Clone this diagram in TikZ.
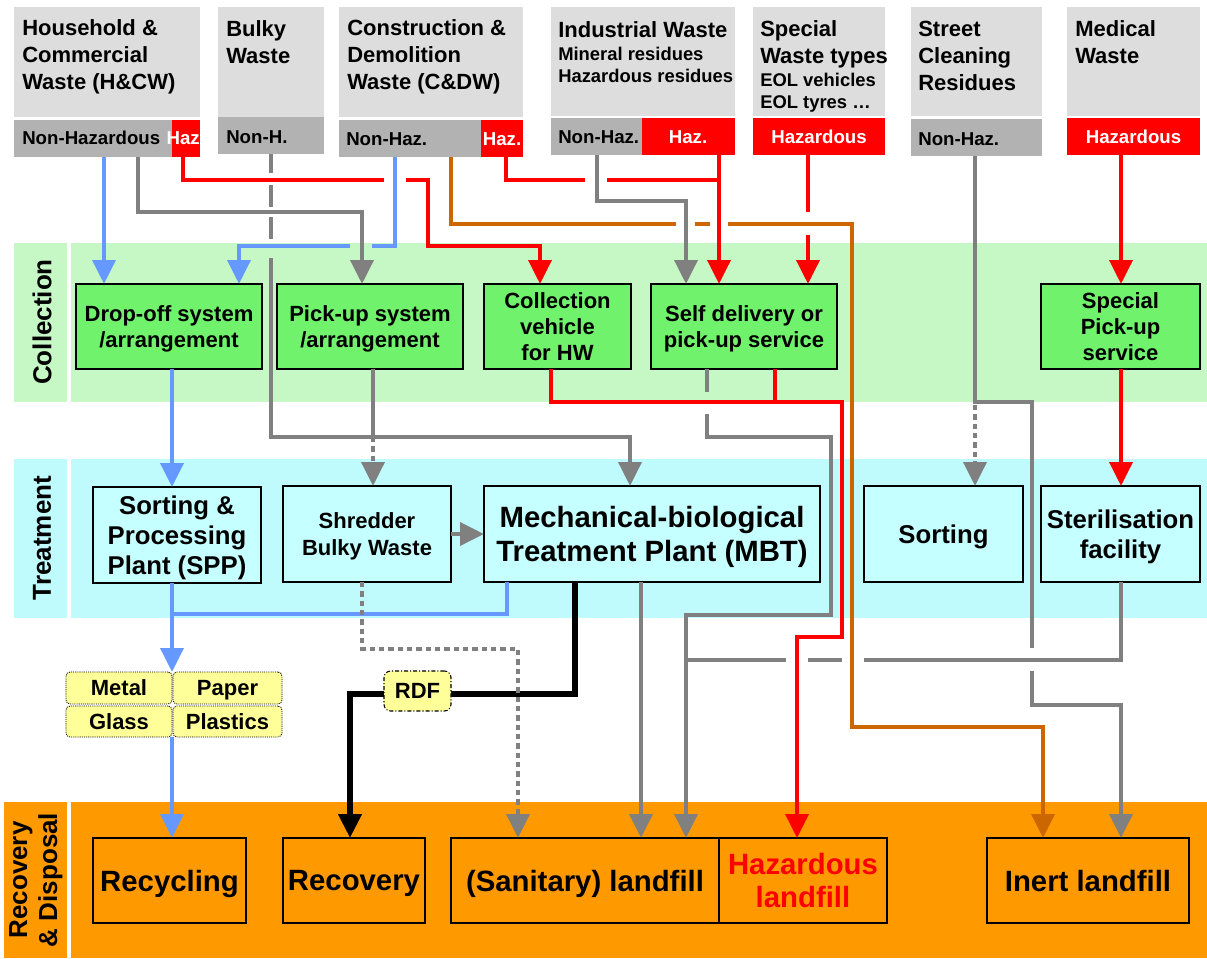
\documentclass[tikz,border=0pt]{standalone}
\usepackage{fontspec}
\setmainfont{Liberation Sans}
\usetikzlibrary{fit,arrows.meta}
\definecolor{hdr}{HTML}{DDDDDD}
\definecolor{subg}{HTML}{B2B2B2}
\definecolor{hred}{HTML}{FF0000}
\definecolor{bandC}{HTML}{C6F8C6}
\definecolor{nodeC}{HTML}{70F26C}
\definecolor{bandT}{HTML}{BFFAFC}
\definecolor{nodeT}{HTML}{C6FFFF}
\definecolor{bandR}{HTML}{FF9900}
\definecolor{yel}{HTML}{FFFF99}
\definecolor{lblue}{HTML}{6699FF}
\definecolor{lgray}{HTML}{808080}
\definecolor{lbrown}{HTML}{CC6600}
\newcommand\fsz[2]{\fontsize{#1}{#2}\selectfont\bfseries}
\newdimen\pxu \pxu=0.75pt
\begin{document}
\begin{tikzpicture}[x=0.75pt,y=-0.75pt,
  box/.style={inner sep=0pt, outer sep=0pt, align=center},
  tbox/.style={box, text depth=0pt},
  sz/.style 2 args={minimum width=#1\pxu, minimum height=#2\pxu},
  hdrbox/.style={box, fill=hdr},
  subbox/.style={box, fill=subg},
  redbox/.style={box, fill=hred},
  htxt/.style={inner sep=0pt, align=left, font=\fsz{16.5}{19.9}},
  hsmall/.style={inner sep=0pt, align=left, font=\fsz{13.8}{16.5}},
  stxt/.style={inner sep=0pt, font=\fsz{14}{17}},
  rtxt/.style={stxt, text=white},
  blab/.style={rotate=90, inner sep=0pt, align=center, font=\fsz{19.5}{23}},
  cnode/.style={tbox, draw=black, line width=1pt, fill=nodeC, font=\fsz{16.5}{19.5}},
  tnode/.style={tbox, draw=black, line width=1pt, fill=nodeT},
  ynode/.style={tbox, fill=yel, draw=black, line width=0.6pt, dash pattern=on 0.8pt off 0.8pt, rounded corners=3pt, font=\fsz{16.5}{19.5}},
  rnode/.style={tbox, draw=black, line width=1pt, fill=bandR, font=\fsz{22}{24.8}},
  cb/.style={draw=lblue, line width=3.5pt},
  cg/.style={draw=lgray, line width=3.5pt},
  cr/.style={draw=hred, line width=3.5pt},
  cn/.style={draw=lbrown, line width=3.5pt},
  ck/.style={draw=black, line width=4pt},
  dots/.style={dash pattern=on 4pt off 3pt},
  arw/.style={-{Triangle[length=18pt,width=17pt]}}
]
\useasboundingbox (0,0) rectangle (1207,958);
% ---------- bands
\fill[bandC] (14,243) rectangle (67,402);
\fill[bandC] (71,243) rectangle (1207,402);
\fill[bandT] (14,459) rectangle (67,618);
\fill[bandT] (71,459) rectangle (1207,618);
\fill[bandR] (4,802) rectangle (67,958);
\fill[bandR] (71,802) rectangle (1207,958);
\node[blab] (labC) at (42,322) {Collection};
\node[blab] (labT) at (42,538) {Treatment};
\node[blab, font=\fsz{19.5}{22.5}] (labR) at (36,880) {Recovery\\\& Disposal};
% ---------- header boxes
\node[hdrbox, fit={(14,7) (200,117)}] (hcwT) {};
\node[subbox, fit={(14,120) (172,157)}] (hcwN) {};
\node[redbox, fit={(172,120) (200,157)}] (hcwH) {};
\node[hdrbox, fit={(218,7) (324,117)}] (bwT) {};
\node[subbox, fit={(218,117) (324,154)}] (bwN) {};
\node[hdrbox, fit={(339,7) (523,117)}] (cdT) {};
\node[subbox, fit={(339,120) (481,157)}] (cdN) {};
\node[redbox, fit={(481,120) (523,157)}] (cdH) {};
\node[hdrbox, fit={(551,7) (735,116)}] (iwT) {};
\node[subbox, fit={(551,118) (642,155)}] (iwN) {};
\node[redbox, fit={(642,118) (735,155)}] (iwH) {};
\node[hdrbox, fit={(753,7) (885,116)}] (swT) {};
\node[redbox, fit={(753,118) (885,155)}] (swH) {};
\node[hdrbox, fit={(911,7) (1042,116)}] (scT) {};
\node[subbox, fit={(911,119) (1042,156)}] (scN) {};
\node[hdrbox, fit={(1067,7) (1200,116)}] (mwT) {};
\node[redbox, fit={(1067,118) (1200,155)}] (mwH) {};
% header texts (anchored at the baseline of the last line)
\node[htxt, anchor=base west] (hcwL) at (22,89) {Household \&\\Commercial\\Waste (H\&CW)};
\node[htxt, anchor=base west] (bwL) at (226,63) {Bulky\\Waste};
\node[htxt, anchor=base west] (cdL) at (347,89) {Construction \&\\Demolition\\Waste (C\&DW)};
\node[htxt, anchor=base west] (iwL) at (558,37) {Industrial Waste};
\node[hsmall, anchor=base west] (iwS) at (558,82) {Mineral residues\\Hazardous residues};
\node[htxt, anchor=base west] (swL) at (760,63) {Special\\Waste types};
\node[hsmall, anchor=base west] (swS) at (760,108) {EOL vehicles\\EOL tyres …};
\node[htxt, anchor=base west] (scL) at (918,90) {Street\\Cleaning\\Residues};
\node[htxt, anchor=base west] (mwL) at (1075,63) {Medical\\Waste};
% sub bar texts
\node[stxt, anchor=base west] (hcwNt) at (22,144) {Non-Hazardous};
\node[rtxt, anchor=base east] (hcwHt) at (200,144) {Haz};
\node[stxt, anchor=base west] (bwNt) at (226,143) {Non-H.};
\node[stxt, anchor=base west] (cdNt) at (346,145) {Non-Haz.};
\node[rtxt, anchor=base] (cdHt) at (502,145) {Haz.};
\node[stxt, anchor=base west] (iwNt) at (558,143) {Non-Haz.};
\node[rtxt, anchor=base] (iwHt) at (688,143) {Haz.};
\node[rtxt, anchor=base] (swHt) at (819,143) {Hazardous};
\node[stxt, anchor=base west] (scNt) at (918,145) {Non-Haz.};
\node[rtxt, anchor=base] (mwHt) at (1133.5,143) {Hazardous};
% ---------- collection nodes
\node[cnode, sz={186}{85}] (drop) at (169,326.5) {Drop-off system\\/arrangement};
\node[cnode, sz={186}{85}] (pick) at (370,326.5) {Pick-up system\\/arrangement};
\node[cnode, sz={147}{85}] (cveh) at (557.5,326.5) {Collection\\vehicle\\for HW};
\node[cnode, sz={186}{85}] (self) at (744,326.5) {Self delivery or\\pick-up service};
\node[cnode, sz={159}{85}] (spick) at (1120.5,326.5) {Special\\Pick-up\\service};
% ---------- treatment nodes
\node[tnode, font=\fsz{19.3}{22.5}, sz={168}{96}] (spp) at (177,535) {Sorting \&\\Processing\\Plant (SPP)};
\node[tnode, font=\fsz{16.5}{20}, sz={168}{96}] (shred) at (367,534) {Shredder\\Bulky Waste};
\node[tnode, font=\fsz{22}{26}, sz={336}{96}] (mbt) at (652,534) {Mechanical-biological\\Treatment Plant (MBT)};
\node[tnode, font=\fsz{19.3}{23}, sz={159}{96}] (sort) at (943.5,534) {Sorting};
\node[tnode, font=\fsz{19.3}{23}, sz={159}{96}] (steril) at (1120.5,534) {Sterilisation\\facility};
% ---------- material boxes
\node[ynode, sz={106}{32}] (metal) at (119,688) {Metal};
\node[ynode, sz={109}{32}] (paper) at (227.5,688) {Paper};
\node[ynode, sz={106}{31}] (glass) at (119,721.5) {Glass};
\node[ynode, sz={109}{31}] (plast) at (227.5,721.5) {Plastics};
% ---------- recovery & disposal nodes
\node[rnode, sz={153}{85}] (recyc) at (169.5,880.5) {Recycling};
\node[rnode, sz={142}{85}] (recov) at (354,880.5) {Recovery};
\node[rnode, sz={268}{85}] (sanit) at (585,880.5) {(Sanitary) landfill};
\node[rnode, text=hred, sz={168}{85}] (hazl) at (803,880.5) {Hazardous\\landfill};
\node[rnode, sz={202}{85}] (inert) at (1088,880.5) {Inert landfill};
% ---------- connectors (drawn in crossing order)
\draw[cg,arw] (271,0 |- bwN.south) |- (630,437) -- (630,0 |- mbt.north);
\fill[white] (266,173) rectangle (276,185);
\fill[white] (266,207) rectangle (276,217);
\fill[white] (266,239) rectangle (276,243);
\fill[bandC] (266,243) rectangle (276,258);
\draw[cg,arw] (975,0 |- scN.south) -- (975,402) -| (1032,705) -| (1121,0 |- inert.north);
\draw[cg,dots,arw] (975,405) -- (975,0 |- sort.north);
\fill[white] (1027,648) rectangle (1037,671);
\draw[cg,arw] (707,0 |- self.south) |- (831,437) |- (686,615) -- (686,0 |- sanit.north);
\draw[cg] (1121,0 |- steril.south) |- (686,660);
\fill[bandC] (702,392) rectangle (712,402);
\fill[white] (702,402) rectangle (712,414);
\fill[white] (786,655) rectangle (808,665);
\fill[white] (842,655) rectangle (864,665);
\draw[cr,arw] (808,0 |- swH.south) -- (808,0 |- self.north);
\fill[white] (803,212) rectangle (813,235);
\draw[cr,arw] (183,0 |- hcwH.south) |- (428,180) |- (540,246) -- (540,0 |- cveh.north);
\fill[white] (384,175) rectangle (406,185);
\draw[cr] (506,0 |- cdH.south) |- (719,180);
\fill[white] (585,175) rectangle (607,185);
\draw[cn,arw] (451,0 |- cdN.south) |- (852,224) |- (1043,727) -- (1043,0 |- inert.north);
\fill[white] (676,219) rectangle (695,229);
\fill[white] (710,219) rectangle (728,229);
\draw[cg,arw] (597,0 |- iwN.south) |- (686,201) -- (686,0 |- self.north);
\draw[cr,arw] (719,0 |- iwH.south) -- (719,0 |- self.north);
\draw[cb,arw] (395,0 |- cdN.south) |- (239,246) -- (239,0 |- drop.north);
\fill[white] (350,240) rectangle (372,243);
\fill[bandC] (350,243) rectangle (372,251);
\draw[cg,arw] (138,0 |- hcwN.south) |- (362,212) -- (362,0 |- pick.north);
\draw[cr,arw] (551,0 |- cveh.south) |- (842,402) |- (797,637) -- (797,0 |- hazl.north);
\draw[cr] (775,0 |- self.south) -- (775,402);
\draw[cb,arw] (104,0 |- hcwN.south) -- (104,0 |- drop.north);
\draw[cb,arw] (172,0 |- drop.south) -- (172,0 |- spp.north);
\draw[cb] (507,0 |- mbt.south) |- (172,614);
\draw[cb,arw] (172,0 |- spp.south) -- (172,0 |- metal.north);
\draw[cb,arw] (172,0 |- glass.south) -- (172,0 |- recyc.north);
\draw[cg] (373,0 |- pick.south) -- (373,437);
\draw[cg,dots,arw] (373,437) -- (373,0 |- shred.north);
\draw[cg,arw] (shred.east) -- (mbt.west);
\draw[cg,arw] (641,0 |- mbt.south) -- (641,0 |- sanit.north);
\draw[ck,arw] (575,0 |- mbt.south) |- (350,694) -- (350,0 |- recov.north);
\node[tbox, fill=yel, draw=black, line width=0.8pt, dash pattern=on 3pt off 1.5pt on 0.8pt off 1.5pt, rounded corners=5pt, font=\fsz{16.5}{19.5}, sz={67}{40}] (rdf) at (417.5,691) {RDF};
\draw[cg,dots,arw] (362,0 |- shred.south) |- (518,649) -- (518,0 |- sanit.north);
\draw[cr,arw] (1121,0 |- mwH.south) -- (1121,0 |- spick.north);
\draw[cr,arw] (1121,0 |- spick.south) -- (1121,0 |- steril.north);
\end{tikzpicture}
\end{document}
